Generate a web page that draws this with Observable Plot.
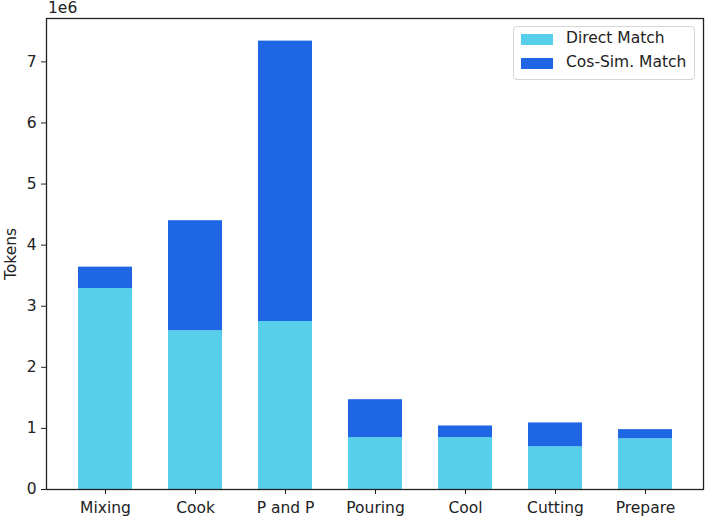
<!DOCTYPE html>
<html>
<head>
<meta charset="utf-8">
<script src="https://cdn.jsdelivr.net/npm/d3@7"></script>
<script src="https://cdn.jsdelivr.net/npm/@observablehq/plot@0.6"></script>
<style>
  html, body { margin: 0; padding: 0; background: #fff; }
  #wrap { position: relative; width: 706px; height: 518px; font-family: "DejaVu Sans", sans-serif; }
  #legend {
    position: absolute; left: 513px; top: 26px; width: 180px; height: 52px;
    border: 1px solid #d6d6d6; border-radius: 4px; background: rgba(255,255,255,0.8);
    font-size: 15.5px; color: #222;
  }
  .item { position: absolute; left: 7px; height: 12px; }
  .sw { position: absolute; left: 0; top: 0; width: 32px; height: 11px; }
  .lab { position: absolute; left: 45px; top: -5px; white-space: nowrap; line-height: 18px; }
  #exp { position: absolute; left: 48px; top: -1px; font-size: 15.5px; color: #222; }
</style>
</head>
<body>
<div id="wrap"></div>
<script>
const categories = ["Mixing", "Cook", "P and P", "Pouring", "Cool", "Cutting", "Prepare"];
const seriesNames = ["Direct Match", "Cos-Sim. Match"];
const directMatch = [3.29e6, 2.60e6, 2.75e6, 0.85e6, 0.85e6, 0.70e6, 0.83e6];
const cosSimMatch = [0.35e6, 1.80e6, 4.59e6, 0.62e6, 0.19e6, 0.39e6, 0.15e6];
const yTicks = [0, 1e6, 2e6, 3e6, 4e6, 5e6, 6e6, 7e6];
const colors = ["#57CFEB", "#1F66E5"];

const rows = [];
categories.forEach((c, i) => {
  rows.push({cat: c, series: seriesNames[0], value: directMatch[i]});
  rows.push({cat: c, series: seriesNames[1], value: cosSimMatch[i]});
});

const chart = Plot.plot({
  width: 706,
  height: 518,
  marginLeft: 46,
  marginRight: 3,
  marginTop: 18,
  marginBottom: 29,
  style: {fontFamily: "DejaVu Sans, sans-serif", fontSize: "15.5px", color: "#222", background: "#fff"},
  x: {domain: categories, paddingInner: 0.4, paddingOuter: 0.33, align: 0.5},
  y: {domain: [0, 7.71e6]},
  color: {domain: seriesNames, range: colors},
  marks: [
    Plot.barY(rows, {x: "cat", y: "value", fill: "series", order: seriesNames}),
    Plot.frame({stroke: "#222", strokeWidth: 1.3}),
    Plot.axisX({tickSize: 5, tickPadding: 7, label: null, stroke: "#222"}),
    Plot.axisY({ticks: yTicks, tickFormat: d => d / 1e6, tickSize: 5, tickPadding: 5,
      label: "Tokens", labelAnchor: "center", labelArrow: "none", labelOffset: 42, stroke: "#222"})
  ]
});

const wrap = document.getElementById("wrap");
wrap.appendChild(chart);

const exp = document.createElement("div");
exp.id = "exp";
exp.textContent = "1e6";
wrap.appendChild(exp);

const legend = document.createElement("div");
legend.id = "legend";
seriesNames.forEach((s, i) => {
  const item = document.createElement("div");
  item.className = "item";
  item.style.top = (7 + i * 24) + "px";
  const sw = document.createElement("div");
  sw.className = "sw";
  sw.style.background = colors[i];
  const lab = document.createElement("div");
  lab.className = "lab";
  lab.textContent = s;
  item.appendChild(sw);
  item.appendChild(lab);
  legend.appendChild(item);
});
wrap.appendChild(legend);
</script>
</body>
</html>
